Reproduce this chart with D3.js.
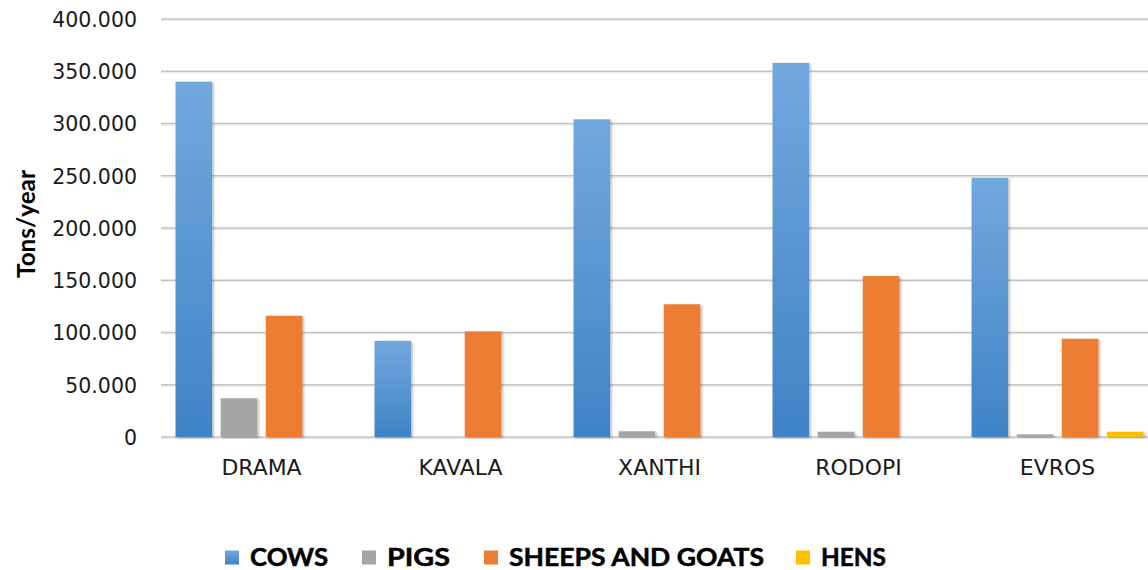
<!DOCTYPE html>
<html><head><meta charset="utf-8">
<script src="https://cdn.jsdelivr.net/npm/d3@7"></script>
<style>body{margin:0;background:#fff}svg{display:block}</style>
</head><body>
<svg id="c" width="1148" height="570"></svg>
<script>
const categories = ["DRAMA","KAVALA","XANTHI","RODOPI","EVROS"];
const seriesNames = ["COWS","PIGS","SHEEPS AND GOATS","HENS"];
const cows  = [340000, 92000, 304000, 358000, 248000];
const pigs  = [37000, 0, 5500, 5000, 2500];
const sheep = [116000, 101000, 127000, 154000, 94000];
const hens  = [0, 0, 0, 0, 5000];
const yTicks = [0,50000,100000,150000,200000,250000,300000,350000,400000];
const yTickLabels = ["0","50.000","100.000","150.000","200.000","250.000","300.000","350.000","400.000"];
const colors = ["url(#gCows)","#a5a5a5","#ed7d31","#ffc000"];
const legendColors = ["url(#gLeg)","#a5a5a5","#ed7d31","#ffc000"];

const seriesValues = [cows, pigs, sheep, hens];
const svg = d3.select("#c");
const defs = svg.append("defs");
const g1 = defs.append("linearGradient").attr("id","gCows").attr("x1",0).attr("y1",0).attr("x2",0).attr("y2",1);
g1.append("stop").attr("offset","0%").attr("stop-color","#72a8de");
g1.append("stop").attr("offset","100%").attr("stop-color","#3f83c6");
const gl = defs.append("linearGradient").attr("id","gLeg").attr("x1",0).attr("y1",0).attr("x2",0).attr("y2",1);
gl.append("stop").attr("offset","0%").attr("stop-color","#72a8de");
gl.append("stop").attr("offset","100%").attr("stop-color","#3f83c6");
const f = defs.append("filter").attr("id","sh").attr("x","-20%").attr("y","-5%").attr("width","140%").attr("height","110%");
f.append("feDropShadow").attr("dx",1.5).attr("dy",1).attr("stdDeviation",1.2).attr("flood-color","#000").attr("flood-opacity",0.3);

const y = d3.scaleLinear().domain([0,400000]).range([437,19]);
const x0 = d3.scaleBand().domain(categories).range([162,1157]).padding(0);
const x1 = d3.scaleBand().domain(seriesNames).range([0,x0.bandwidth()]).paddingInner(0.19).paddingOuter(0.3);

// gridlines
const grid = svg.append("g");
yTicks.forEach(t=>{
  grid.append("line").attr("x1",161).attr("x2",1148).attr("y1",y(t)+1.5).attr("y2",y(t)+1.5)
    .attr("stroke","#e6e6e6").attr("stroke-width",1.2);
  grid.append("line").attr("x1",161).attr("x2",1148).attr("y1",y(t)).attr("y2",y(t))
    .attr("stroke","#c3c3c3").attr("stroke-width",1.6);
});

// y axis labels
const yAxis = d3.axisLeft(y).tickValues(yTicks).tickSize(0).tickPadding(0)
  .tickFormat((d,i)=>yTickLabels[i]);
const ya = svg.append("g").attr("transform","translate(137,0)").call(yAxis);
ya.select(".domain").remove();
ya.selectAll("text").attr("font-family","DejaVu Sans").attr("font-size",20.5).attr("fill","#1a1a1a").attr("dy","0.36em");

// x axis labels
const xAxis = d3.axisBottom(x0).tickSize(0).tickPadding(0);
const xa = svg.append("g").attr("transform","translate(0,475)").call(xAxis);
xa.select(".domain").remove();
xa.selectAll(".tick").each(function(d){
  const cx = x0(d)+x0.bandwidth()/2;
  d3.select(this).attr("transform",null);
  d3.select(this).select("text").attr("font-family","DejaVu Sans").attr("font-size",20.5)
    .attr("fill","#1a1a1a").attr("dy",0)
    .attr("transform",`translate(${cx},0) scale(1.07,1)`).attr("x",0);
});

// bars
const bars = svg.append("g");
categories.forEach((c,ci)=>{
  seriesNames.forEach((s,si)=>{
    const v = seriesValues[si][ci];
    if(!v) return;
    bars.append("rect")
      .attr("x", x0(c)+x1(s)).attr("width", x1.bandwidth())
      .attr("y", y(v)).attr("height", y(0)-y(v))
      .attr("fill", colors[si]).attr("filter","url(#sh)");
  });
});

// y title
svg.append("text").attr("transform","translate(35,224) rotate(-90)")
  .attr("text-anchor","middle").attr("font-family","Lato").attr("font-weight",700)
  .attr("font-size",25).attr("fill","#000")
  .attr("textLength",108).attr("lengthAdjust","spacingAndGlyphs").text("Tons/year");

// legend
const legX = [225,362,484,796];
const legText = [78,63,255,65];
const leg = svg.append("g");
seriesNames.forEach((s,i)=>{
  leg.append("rect").attr("x",legX[i]).attr("y",550.5).attr("width",14).attr("height",14)
    .attr("fill", legendColors[i]);
  leg.append("text").attr("x",legX[i]+25).attr("y",566)
    .attr("font-family","Lato").attr("font-weight",700).attr("font-size",25)
    .attr("stroke","#000").attr("stroke-width",0.5)
    .attr("textLength",legText[i]).attr("lengthAdjust","spacingAndGlyphs")
    .attr("fill","#000").text(s);
});
</script>
</body></html>
